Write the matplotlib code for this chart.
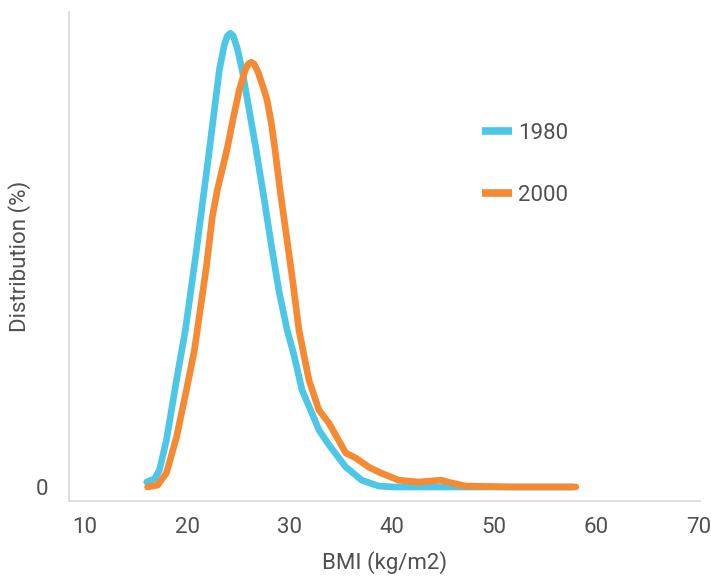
import matplotlib.pyplot as plt

plt.rcParams['font.family'] = ['Roboto', 'DejaVu Sans']

# BMI distribution
bmi_1980 = [16.04, 16.82, 17.30, 17.98, 18.96, 19.83, 20.91, 22.17, 23.15, 23.63,
            23.92, 24.22, 24.51, 24.90, 25.38, 26.07, 26.75, 27.54, 28.31, 29.00,
            29.77, 30.45, 31.23, 32.20, 32.88, 33.86, 35.51, 37.07, 38.72, 40.19,
            46.81, 52.36, 57.71]
dist_1980 = [0.11, 0.18, 0.38, 1.04, 2.36, 3.47, 5.23, 7.44, 9.21, 9.76,
             9.96, 10.02, 9.96, 9.69, 9.21, 8.32, 7.44, 6.34, 5.23, 4.30,
             3.47, 2.91, 2.14, 1.63, 1.26, 0.93, 0.44, 0.15, 0.02, 0.0,
             0.0, 0.0, 0.0]

bmi_2000 = [16.13, 17.11, 17.98, 18.96, 19.93, 20.71, 21.88, 22.46, 22.95, 23.44, 23.92,
            24.51, 25.09, 25.68, 25.97, 26.26, 26.55, 26.94, 27.43, 27.82, 28.21, 28.60,
            29.08, 29.67, 30.35, 30.93, 31.42, 31.91, 32.88, 33.86, 35.51, 36.48, 37.75,
            38.72, 40.67, 42.62, 44.86, 45.83, 47.20, 51.67, 58.00]
dist_2000 = [0.0, 0.04, 0.31, 1.10, 2.14, 3.02, 4.86, 5.96, 6.56, 7.02, 7.48,
             8.15, 8.76, 9.21, 9.34, 9.38, 9.34, 9.16, 8.83, 8.54, 8.06, 7.44,
             6.56, 5.61, 4.50, 3.47, 2.91, 2.36, 1.70, 1.41, 0.75, 0.64, 0.44,
             0.33, 0.15, 0.11, 0.15, 0.09, 0.02, 0.0, 0.0]

xticks = [10, 20, 30, 40, 50, 60, 70]
blue = '#4dc7e7'
orange = '#f68a33'
text_c = '#505050'

fig = plt.figure(figsize=(7.11, 5.78), dpi=100)
ax = fig.add_axes([69 / 711, 1 - 501 / 578, 631 / 711, 489 / 578])

ax.plot(bmi_1980, dist_1980, color=blue, lw=4.8, solid_capstyle='round',
        solid_joinstyle='round', label='1980')
ax.plot(bmi_2000, dist_2000, color=orange, lw=4.8, solid_capstyle='round',
        solid_joinstyle='round', label='2000')

ax.set_xlim(8.45, 70.14)
ax.set_ylim(-0.31, 10.49)
ax.set_xticks(xticks)
ax.set_yticks([0])
ax.tick_params(axis='both', length=0, labelsize=16, colors=text_c)
ax.tick_params(axis='x', pad=11.5)
ax.tick_params(axis='y', pad=15)

for s in ['top', 'right']:
    ax.spines[s].set_visible(False)
for s in ['left', 'bottom']:
    ax.spines[s].set_color('#d9d9d9')
    ax.spines[s].set_linewidth(1.2)

ax.set_xlabel('BMI (kg/m2)', fontsize=16, color=text_c, labelpad=9.5)
ax.set_ylabel('Distribution (%)', fontsize=16, color=text_c, labelpad=3)

leg = ax.legend(loc='upper left', bbox_to_anchor=(0.654, 0.774), frameon=False,
                fontsize=16, handlelength=1.35, handletextpad=0.3, labelspacing=1.85,
                borderpad=0, borderaxespad=0)
for t in leg.get_texts():
    t.set_color(text_c)
for h in leg.get_lines():
    h.set_linewidth(5.5)
    h.set_solid_capstyle('butt')

fig.savefig('out.png', dpi=100)
